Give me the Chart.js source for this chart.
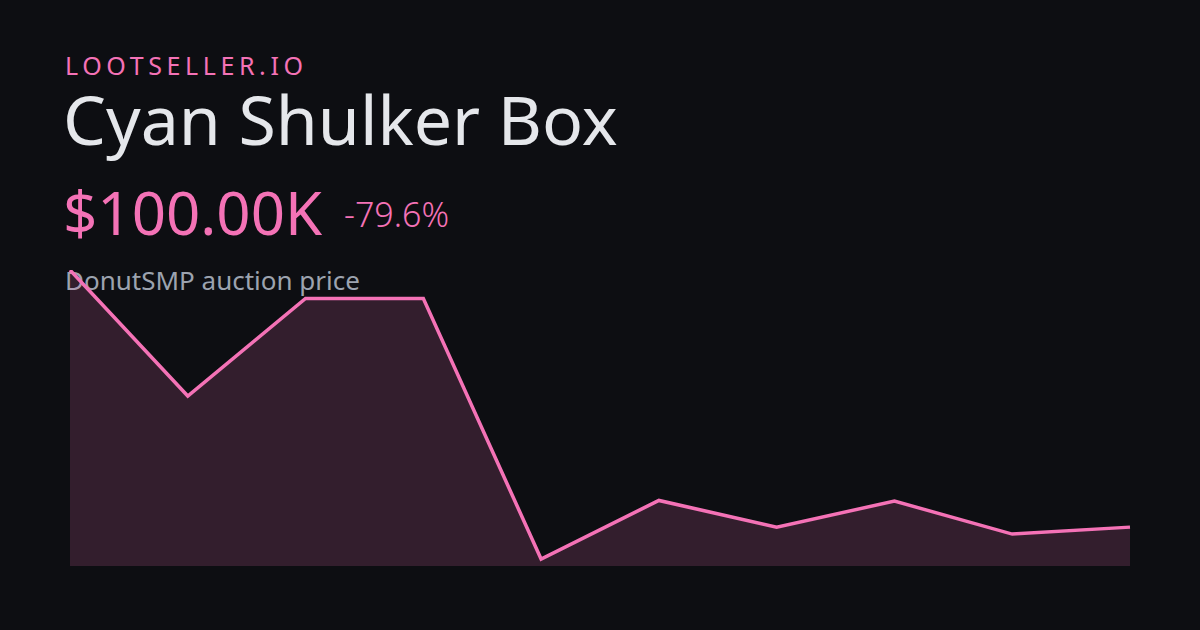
<!DOCTYPE html>
<html>
<head>
<meta charset="utf-8">
<script src="https://cdn.jsdelivr.net/npm/chart.js@4"></script>
<style>
  html, body { margin: 0; padding: 0; }
  body { width: 1200px; height: 630px; background: #0d0e12; position: relative; overflow: hidden; font-family: "Noto Sans", sans-serif; }
  .brand { position: absolute; left: 65px; top: 53px; font-size: 25px; letter-spacing: 4.6px; color: #f472b6; line-height: 1; }
  .title { position: absolute; left: 63px; top: 85px; font-size: 68px; color: #e5e7eb; line-height: 1; }
  .price { position: absolute; left: 63px; top: 182px; font-size: 60px; color: #f472b6; line-height: 1; }
  .change { position: absolute; left: 344px; top: 197px; font-size: 34px; color: #f472b6; line-height: 1; font-weight: 300; }
  .sub { position: absolute; left: 65px; top: 267px; font-size: 26px; color: #9ca3af; line-height: 1; }
  #wrap { position: absolute; left: 60px; top: 260px; width: 1080px; height: 316px; }
</style>
</head>
<body>
<div class="brand">LOOTSELLER.IO</div>
<div class="title">Cyan Shulker Box</div>
<div class="price">$100.00K</div>
<div class="change">-79.6%</div>
<div class="sub">DonutSMP auction price</div>
<div id="wrap"><canvas id="chart"></canvas></div>
<script>
// auction price history, in thousands of dollars
const labels = ['1', '2', '3', '4', '5', '6', '7', '8', '9', '10'];
const prices = [490.2, 299, 447, 447, 51.5, 140.5, 100, 139.5, 89.4, 100];

const ctx = document.getElementById('chart').getContext('2d');
new Chart(ctx, {
    type: 'line',
    data: {
        labels: labels,
        datasets: [{
            data: prices,
            borderColor: '#f472b6',
            backgroundColor: 'rgba(244, 114, 182, 0.17)',
            borderWidth: 3.5,
            pointRadius: 0,
            tension: 0,
            fill: 'start'
        }]
    },
    options: {
        responsive: true,
        maintainAspectRatio: false,
        animation: false,
        layout: { padding: 10 },
        plugins: { legend: { display: false }, tooltip: { enabled: false } },
        scales: {
            x: { display: false, offset: false },
            y: { display: false, min: 41, max: 490.2 }
        }
    }
});
</script>
</body>
</html>
